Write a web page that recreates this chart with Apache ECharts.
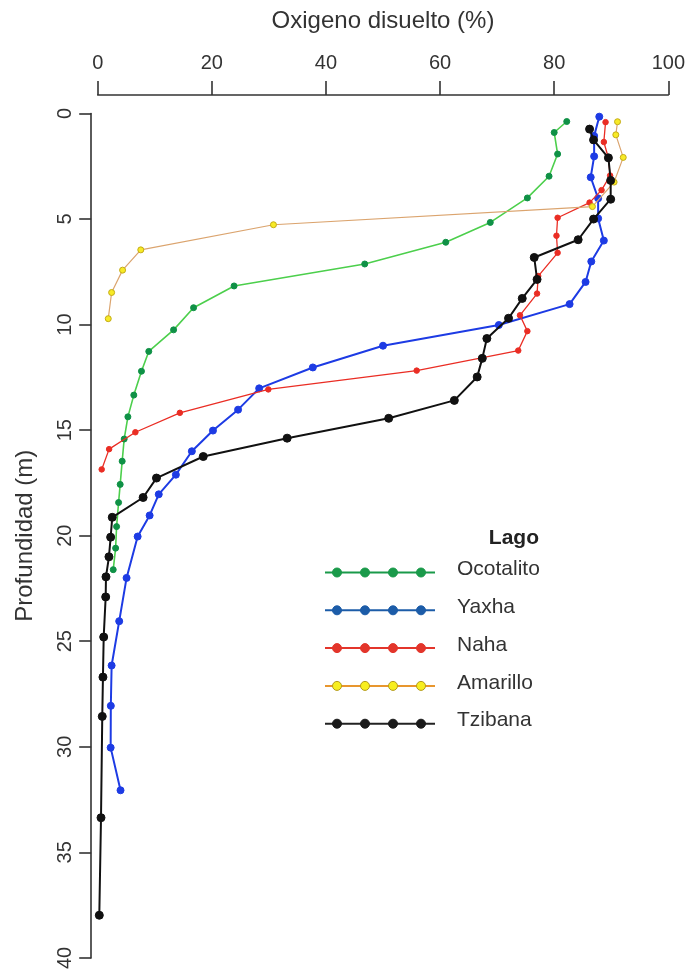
<!DOCTYPE html>
<html>
<head>
<meta charset="utf-8">
<title>Oxigeno disuelto</title>
<script src="https://cdn.jsdelivr.net/npm/echarts@6/dist/echarts.min.js"></script>
<style>
  html, body { margin: 0; padding: 0; background: #fff; }
  #chart { width: 688px; height: 972px; }
</style>
</head>
<body>
<div id="chart"></div>
<script>
  // lagos (orden de dibujo = orden de leyenda)
  var lagos = ['Ocotalito', 'Yaxha', 'Naha', 'Amarillo', 'Tzibana']

  // profundidad (m) y oxigeno disuelto (%) por lago
  var ocotalitoProf = [0.38, 0.9, 1.92, 2.97, 4.0, 5.16, 6.1, 7.13, 8.17, 9.2, 10.25, 11.27, 12.21, 13.34, 14.37, 15.42, 16.47, 17.57, 18.43, 19.57, 20.59, 21.61]
  var ocotalitoOxi = [82.2, 80.0, 80.6, 79.1, 75.3, 68.8, 61.0, 46.8, 23.9, 16.8, 13.3, 8.95, 7.67, 6.33, 5.29, 4.64, 4.29, 3.94, 3.66, 3.31, 3.14, 2.72]

  var yaxhaProf = [0.15, 1.06, 2.03, 3.02, 4.02, 4.97, 6.02, 7.01, 7.98, 9.03, 10.02, 11.0, 12.03, 13.02, 14.03, 15.02, 16.0, 17.11, 18.04, 19.04, 20.04, 22.0, 24.05, 26.15, 28.06, 30.04, 32.06]
  var yaxhaOxi = [87.9, 87.0, 87.0, 86.4, 87.7, 87.7, 88.7, 86.5, 85.5, 82.7, 70.3, 50.0, 37.7, 28.3, 24.6, 20.2, 16.5, 13.7, 10.7, 9.1, 7.0, 5.06, 3.77, 2.44, 2.3, 2.27, 4.0]

  var nahaProf = [0.41, 1.35, 2.11, 2.94, 3.63, 4.22, 4.94, 5.79, 6.6, 7.7, 8.53, 9.56, 10.31, 11.23, 12.18, 13.07, 14.18, 15.1, 15.9, 16.86]
  var nahaOxi = [89.0, 88.7, 89.5, 89.8, 88.3, 86.2, 80.6, 80.4, 80.6, 77.2, 77.0, 74.0, 75.3, 73.7, 55.9, 29.9, 14.4, 6.6, 2.0, 0.7]

  var amarilloProf = [0.39, 1.01, 2.08, 3.25, 4.41, 5.27, 6.46, 7.42, 8.48, 9.72]
  var amarilloOxi = [91.1, 90.8, 92.1, 90.5, 86.7, 30.8, 7.55, 4.36, 2.44, 1.85]

  var tzibanaProf = [0.74, 1.25, 2.1, 3.17, 4.06, 5.0, 5.98, 6.82, 7.86, 8.76, 9.7, 10.66, 11.6, 12.48, 13.59, 14.44, 15.38, 16.25, 17.27, 18.19, 19.13, 20.07, 21.0, 21.95, 22.9, 24.8, 26.7, 28.56, 33.36, 37.98]
  var tzibanaOxi = [86.2, 86.9, 89.5, 89.9, 89.9, 86.9, 84.2, 76.5, 77.0, 74.4, 72.0, 68.2, 67.4, 66.5, 62.5, 51.0, 33.2, 18.5, 10.3, 7.96, 2.55, 2.27, 1.97, 1.45, 1.4, 1.05, 0.92, 0.8, 0.58, 0.28]

  var fuente = '"Liberation Sans", Arial, sans-serif'
  var gris = '#333'

  // estilos: linea, punto, borde del punto, tamano, grosor
  var estilos = [
    { linea: '#4ccf4c', punto: '#0f9146', borde: '#0f9146', tam: 6, ancho: 1.6 },
    { linea: '#1d3be4', punto: '#1d3be4', borde: '#1d3be4', tam: 7, ancho: 2 },
    { linea: '#ea2d24', punto: '#ea2d24', borde: '#ea2d24', tam: 5.5, ancho: 1.3 },
    { linea: '#dba46e', punto: '#f7ea26', borde: '#c4ac18', tam: 6, ancho: 1.2 },
    { linea: '#111111', punto: '#111111', borde: '#111111', tam: 8, ancho: 2 }
  ]
  // colores de la leyenda
  var leyenda = [
    { linea: '#1a9a4a', punto: '#1a9a4a', borde: '#1a9a4a' },
    { linea: '#1c5ca8', punto: '#1c5ca8', borde: '#1c5ca8' },
    { linea: '#e3352b', punto: '#e3352b', borde: '#e3352b' },
    { linea: '#e8962e', punto: '#f7ee1f', borde: '#b39a1a' },
    { linea: '#222222', punto: '#1a1a1a', borde: '#1a1a1a' }
  ]

  var prof = [ocotalitoProf, yaxhaProf, nahaProf, amarilloProf, tzibanaProf]
  var oxi = [ocotalitoOxi, yaxhaOxi, nahaOxi, amarilloOxi, tzibanaOxi]

  var series = lagos.map(function (nombre, i) {
    var e = estilos[i]
    return {
      name: nombre,
      type: 'line',
      data: oxi[i].map(function (v, k) { return [v, prof[i][k]] }),
      symbol: 'circle',
      symbolSize: e.tam,
      showAllSymbol: true,
      z: 2 + i,
      lineStyle: { color: e.linea, width: e.ancho },
      itemStyle: { color: e.punto, borderColor: e.borde, borderWidth: 1 },
      emphasis: { disabled: true }
    }
  })

  // leyenda dibujada a mano: linea con cuatro puntos
  var graficos = [{
    type: 'text', x: 539, y: 538,
    style: { text: 'Lago', font: 'bold 21px ' + fuente, fill: '#222', align: 'right', verticalAlign: 'middle' }
  }]
  lagos.forEach(function (nombre, i) {
    var y = 572.5 + i * 37.8
    var c = leyenda[i]
    graficos.push({
      type: 'line', shape: { x1: 325, y1: y, x2: 435, y2: y },
      style: { stroke: c.linea, lineWidth: 2 }
    })
    ;[337, 365, 393, 421].forEach(function (x) {
      graficos.push({
        type: 'circle', shape: { cx: x, cy: y, r: 4.5 },
        style: { fill: c.punto, stroke: c.borde, lineWidth: 1 }
      })
    })
    graficos.push({
      type: 'text', x: 457, y: y - 3,
      style: { text: nombre, font: '21px ' + fuente, fill: '#333', align: 'left', verticalAlign: 'middle' }
    })
  })

  var chart = echarts.init(document.getElementById('chart'), null, { renderer: 'canvas' })
  chart.setOption({
    animation: false,
    backgroundColor: '#fff',
    textStyle: { fontFamily: fuente },
    grid: { left: 97.7, right: 17, top: 113.5, bottom: 8, containLabel: false },
    xAxis: {
      type: 'value',
      position: 'top',
      min: 0, max: 100, interval: 20,
      offset: 18.5,
      name: 'Oxigeno disuelto (%)',
      nameLocation: 'middle',
      nameGap: 62,
      nameTextStyle: { fontSize: 24, color: gris, fontFamily: fuente },
      axisLine: { show: true, onZero: false, lineStyle: { color: gris, width: 1.6 } },
      axisTick: { show: true, inside: false, length: 14, lineStyle: { color: gris, width: 1.6 } },
      axisLabel: { fontSize: 20, color: gris, margin: 22, fontFamily: fuente },
      splitLine: { show: false }
    },
    yAxis: {
      type: 'value',
      inverse: true,
      min: 0, max: 40, interval: 5,
      offset: 6.5,
      name: 'Profundidad (m)',
      nameLocation: 'middle',
      nameRotate: 90,
      nameGap: 54,
      nameTextStyle: { fontSize: 24, color: gris, fontFamily: fuente },
      axisLine: { show: true, onZero: false, lineStyle: { color: gris, width: 1.6 } },
      axisTick: { show: true, inside: false, length: 12, lineStyle: { color: gris, width: 1.6 } },
      axisLabel: { fontSize: 20, color: gris, rotate: 90, margin: 16, fontFamily: fuente },
      splitLine: { show: false }
    },
    graphic: graficos,
    series: series
  })
</script>
</body>
</html>
